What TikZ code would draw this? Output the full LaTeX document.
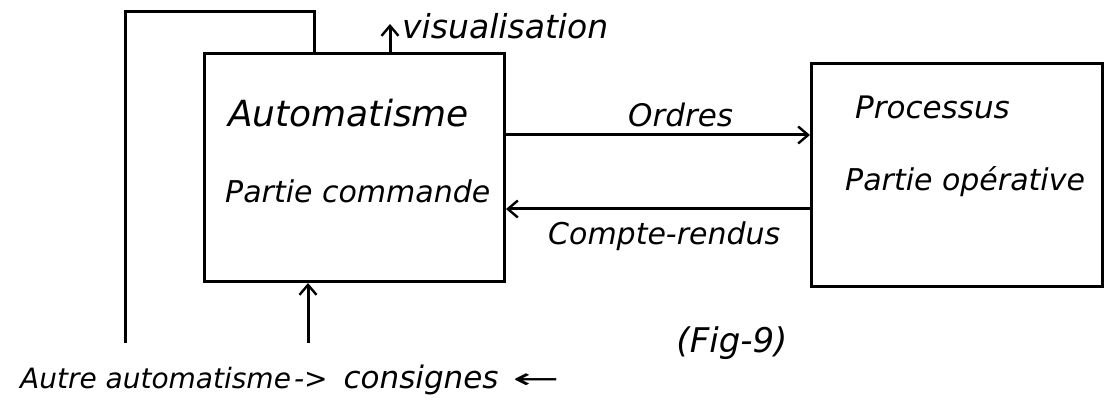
\documentclass[tikz,border=0pt]{standalone}
\usepackage{fontspec}
\usepackage{graphicx}
\setmainfont{DejaVu Sans}
\usetikzlibrary{arrows.meta}
\tikzset{
  block/.style={draw, line width=3pt, rectangle, inner sep=0pt},
  wire/.style={line width=3pt},
  flow/.style={wire, -{Straight Barb[length=10pt,width=17pt,line width=2.4pt]}},
  hand/.style={font=\itshape\fontsize{#1}{#1}\selectfont, inner sep=0pt, anchor=base west},
}
\newcommand{\fsz}[1]{\fontsize{#1}{#1}\selectfont}
\begin{document}
\begin{tikzpicture}[x=1pt,y=-1pt]
  \useasboundingbox (0,0) rectangle (1104,401);
  \fill[white] (0,0) rectangle (1104,401);

  % the two blocks
  \node[block, anchor=north west, minimum width=300pt, minimum height=228pt] (auto) at (203,52) {};
  \node[block, anchor=north west, minimum width=291pt, minimum height=223pt] (proc) at (810,62) {};

  % block texts
  \node[hand=36pt] (t1) at (228,127) {Automatisme};
  \node[hand=30pt] (t2) at (225,203) {Partie commande};
  \node[hand=31pt] (t3) at (855,119) {Processus};
  \node[hand=30pt] (t4) at (845,190) {Partie opérative};

  % helper points
  \coordinate (ord) at (0,135);
  \coordinate (cr) at (0,209);
  \coordinate (fbfoot) at (125,343);
  \coordinate (fbturn) at (314,12);
  \coordinate (vis) at (390,24);
  \coordinate (cons) at (308,343);

  % orders and reports
  \draw[flow] (auto.east |- ord) -- (proc.west |- ord);
  \draw[flow] (proc.west |- cr) -- (auto.east |- cr);
  \node[hand=31pt] (lo) at (628,127) {Ordres};
  \node[hand=30pt] (lc) at (548,244) {Compte-rendus};

  % loop from the other automatism
  \draw[wire] (fbfoot) |- (fbturn) -- (auto.north -| fbturn);

  % display output
  \draw[flow] (auto.north -| vis) -- (vis);
  \node[hand=33pt] (lv) at (402,39) {visualisation};

  % set points input
  \draw[flow] (cons) -- (cons |- auto.south);
  \node[hand=28pt] (lb) at (20,388)
    {Autre automatisme\hspace{3pt}->\hspace{16pt}{\fsz{31pt}consignes}\hspace{14pt}\scalebox{2}[1]{←}};

  \node[font=\itshape\fsz{34pt}, inner sep=0pt] (fig) at (732,343) {(Fig-9)};
\end{tikzpicture}
\end{document}
